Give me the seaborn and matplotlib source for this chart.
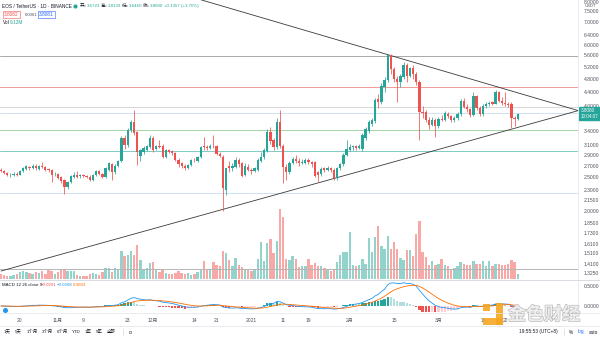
import numpy as np
import pandas as pd
import matplotlib
matplotlib.use("Agg")
import matplotlib.pyplot as plt
import matplotlib.patheffects as pe
from matplotlib.patches import Rectangle
from matplotlib.ticker import NullLocator
import seaborn as sns

# ---------------- data (EOS/USDT daily, 2020-10-14 .. 2021-03-26) ----------------
opens = [2.62, 2.60, 2.57, 2.53, 2.54, 2.56, 2.54, 2.60, 2.64, 2.68,
         2.66, 2.70, 2.64, 2.69, 2.67, 2.64, 2.62, 2.55, 2.55, 2.50,
         2.45, 2.35, 2.42, 2.50, 2.54, 2.52, 2.53, 2.52, 2.51, 2.46,
         2.53, 2.60, 2.55, 2.50, 2.63, 2.72, 2.58, 2.70, 2.79, 3.24,
         3.09, 3.42, 3.60, 3.37, 2.88, 2.95, 3.00, 3.05, 3.25, 3.02,
         3.07, 3.07, 2.86, 2.99, 2.97, 2.93, 2.80, 2.74, 2.70, 2.66,
         2.71, 2.79, 2.78, 2.86, 3.08, 3.05, 3.03, 3.08, 3.08, 2.92,
         2.86, 2.30, 2.70, 2.65, 2.68, 2.80, 2.74, 2.54, 2.68, 2.63,
         2.61, 2.62, 2.78, 2.85, 2.98, 3.38, 3.20, 3.05, 3.60, 3.07,
         2.68, 2.58, 2.75, 2.82, 2.78, 2.75, 2.75, 2.80, 2.77, 2.76,
         2.58, 2.55, 2.66, 2.62, 2.66, 2.63, 2.48, 2.66, 2.72, 2.90,
         3.00, 3.05, 3.07, 3.04, 3.02, 3.25, 3.40, 3.55, 3.62, 4.20,
         4.10, 4.55, 4.75, 5.60, 5.10, 4.80, 4.68, 4.86, 5.25, 4.90,
         5.15, 4.95, 4.70, 3.85, 3.84, 3.66, 3.53, 3.66, 3.50, 3.68,
         3.66, 3.80, 3.75, 3.64, 3.70, 3.80, 4.14, 3.98, 3.92, 3.78,
         4.27, 3.95, 3.80, 4.00, 4.05, 4.10, 4.07, 4.38, 4.15, 4.08,
         4.05, 4.07, 3.70, 3.67]
highs = [2.65, 2.63, 2.59, 2.57, 2.58, 2.58, 2.62, 2.67, 2.71, 2.70,
         2.72, 2.72, 2.71, 2.76, 2.69, 2.66, 2.64, 2.58, 2.57, 2.52,
         2.47, 2.44, 2.54, 2.58, 2.60, 2.55, 2.55, 2.54, 2.53, 2.56,
         2.63, 2.62, 2.57, 2.67, 2.76, 2.74, 2.72, 2.81, 3.28, 3.30,
         3.46, 3.66, 3.90, 3.40, 3.02, 3.08, 3.10, 3.30, 3.28, 3.10,
         3.20, 3.12, 3.01, 3.02, 2.99, 2.95, 2.83, 2.76, 2.72, 2.73,
         2.82, 2.83, 2.88, 3.08, 3.26, 3.09, 3.12, 3.30, 3.10, 2.95,
         2.90, 2.66, 2.78, 2.74, 2.86, 2.83, 2.76, 2.74, 2.72, 2.66,
         2.68, 2.84, 2.95, 3.04, 3.45, 3.48, 3.24, 3.70, 3.90, 3.12,
         2.72, 2.78, 2.86, 2.90, 2.84, 2.82, 2.84, 2.83, 2.79, 2.78,
         2.60, 2.67, 2.68, 2.70, 2.68, 2.65, 2.68, 2.75, 2.93, 3.20,
         3.12, 3.10, 3.10, 3.12, 3.34, 3.48, 3.65, 3.70, 4.22, 4.35,
         4.65, 4.85, 5.62, 5.65, 5.20, 4.90, 4.95, 5.35, 5.32, 5.20,
         5.25, 5.00, 4.75, 4.00, 3.90, 3.72, 3.72, 3.70, 3.72, 3.78,
         3.88, 3.86, 3.78, 3.75, 3.85, 4.20, 4.22, 4.05, 3.96, 4.40,
         4.32, 4.00, 4.05, 4.12, 4.15, 4.14, 4.45, 4.42, 4.25, 4.38,
         4.10, 4.12, 3.75, 3.82]
lows = [2.58, 2.55, 2.52, 2.51, 2.52, 2.52, 2.53, 2.58, 2.62, 2.63,
        2.64, 2.63, 2.62, 2.65, 2.61, 2.59, 2.42, 2.52, 2.47, 2.41,
        2.24, 2.31, 2.40, 2.48, 2.49, 2.49, 2.50, 2.48, 2.43, 2.44,
        2.52, 2.53, 2.48, 2.49, 2.61, 2.45, 2.56, 2.68, 2.77, 3.02,
        3.05, 3.38, 3.30, 2.71, 2.78, 2.92, 2.98, 3.03, 2.96, 2.99,
        3.03, 2.84, 2.84, 2.94, 2.90, 2.78, 2.68, 2.66, 2.63, 2.64,
        2.69, 2.76, 2.77, 2.84, 3.00, 2.99, 3.01, 3.04, 2.90, 2.85,
        2.00, 2.22, 2.58, 2.60, 2.66, 2.68, 2.50, 2.52, 2.60, 2.56,
        2.58, 2.60, 2.76, 2.82, 2.95, 3.12, 3.00, 3.02, 3.04, 2.41,
        2.45, 2.55, 2.72, 2.75, 2.70, 2.72, 2.72, 2.72, 2.68, 2.50,
        2.42, 2.52, 2.58, 2.60, 2.58, 2.46, 2.46, 2.63, 2.70, 2.88,
        2.97, 3.00, 3.00, 3.01, 2.98, 3.20, 3.36, 3.50, 3.58, 3.95,
        4.05, 4.40, 4.70, 4.95, 4.70, 4.10, 4.55, 4.80, 4.70, 4.85,
        4.80, 4.60, 3.20, 3.70, 3.60, 3.45, 3.50, 3.26, 3.46, 3.62,
        3.63, 3.70, 3.60, 3.60, 3.66, 3.76, 3.94, 3.85, 3.72, 3.74,
        3.90, 3.74, 3.76, 3.95, 4.00, 4.02, 4.05, 4.10, 4.02, 4.00,
        3.98, 3.46, 3.50, 3.64]
closes = [2.60, 2.57, 2.54, 2.54, 2.56, 2.54, 2.60, 2.65, 2.69, 2.66,
          2.70, 2.66, 2.69, 2.67, 2.63, 2.62, 2.54, 2.56, 2.49, 2.43,
          2.34, 2.42, 2.52, 2.54, 2.51, 2.53, 2.52, 2.50, 2.45, 2.54,
          2.61, 2.55, 2.50, 2.65, 2.74, 2.58, 2.70, 2.79, 3.24, 3.09,
          3.42, 3.60, 3.35, 2.95, 3.00, 3.04, 3.07, 3.25, 3.00, 3.07,
          3.06, 2.86, 2.99, 2.96, 2.93, 2.80, 2.72, 2.69, 2.66, 2.71,
          2.80, 2.78, 2.86, 3.06, 3.05, 3.03, 3.08, 3.07, 2.92, 2.88,
          2.33, 2.66, 2.65, 2.70, 2.80, 2.72, 2.52, 2.70, 2.62, 2.60,
          2.65, 2.80, 2.85, 3.00, 3.38, 3.18, 3.06, 3.60, 3.07, 2.68,
          2.58, 2.75, 2.82, 2.78, 2.74, 2.76, 2.80, 2.76, 2.72, 2.52,
          2.53, 2.64, 2.62, 2.66, 2.62, 2.48, 2.66, 2.72, 2.90, 3.02,
          3.05, 3.07, 3.04, 3.08, 3.31, 3.44, 3.60, 3.65, 4.17, 4.10,
          4.58, 4.75, 5.60, 5.10, 4.80, 4.68, 4.88, 5.25, 4.90, 5.15,
          4.95, 4.70, 3.85, 3.82, 3.65, 3.53, 3.66, 3.50, 3.68, 3.66,
          3.83, 3.74, 3.64, 3.70, 3.80, 4.14, 3.98, 3.92, 3.78, 4.27,
          3.95, 3.80, 4.00, 4.05, 4.08, 4.07, 4.38, 4.15, 4.08, 4.05,
          4.04, 3.70, 3.67, 3.808]
volumes = [5, 4, 3, 3, 4, 5, 7, 8, 7, 6,
           5, 7, 6, 8, 5, 9, 8, 5, 7, 9,
           9, 8, 8, 8, 4, 3, 3, 3, 5, 6,
           5, 4, 7, 11, 11, 7, 11, 10, 28, 23,
           24, 28, 24, 34, 19, 10, 11, 16, 17, 9,
           7, 10, 6, 5, 5, 6, 8, 6, 5, 6,
           4, 5, 7, 10, 18, 9, 10, 17, 14, 13,
           28, 26, 19, 13, 21, 14, 12, 10, 9, 8,
           10, 20, 37, 18, 36, 40, 26, 38, 70, 62,
           20, 19, 23, 20, 12, 13, 13, 20, 14, 16,
           13, 13, 11, 9, 8, 9, 17, 24, 27, 27,
           47, 14, 13, 14, 20, 15, 41, 27, 42, 53,
           33, 30, 43, 30, 37, 30, 21, 19, 29, 29,
           23, 45, 58, 27, 22, 14, 18, 14, 15, 20,
           14, 13, 9, 11, 13, 17, 15, 14, 14, 18,
           15, 15, 18, 13, 18, 13, 15, 15, 14, 14,
           15, 19, 17, 5]

level_prices = [5.58, 4.54, 3.97, 3.83, 3.41, 2.97, 2.25, 1.36]
upper_trend_days = [63.1, 182.3]
upper_trend_prices = [8.09, 3.88]
lower_trend_days = [0.0, 182.3]
lower_trend_prices = [1.343, 3.89]

price_ticks = [8.0, 7.5, 7.0, 6.4, 6.0, 5.6, 5.2, 4.8, 4.4, 4.0, 3.4, 3.1, 2.9,
               2.7, 2.5, 2.3, 2.15, 2.0, 1.85, 1.73, 1.61, 1.51, 1.41, 1.325]
macd_ticks = [0.5, 0.0]
date_tick_days = [6, 18, 26, 40, 48, 61, 68, 79, 89, 97, 110, 124, 138, 152, 159]
date_tick_labels = ["20", "11月", "9", "23", "12月", "14", "21", "2021", "11", "19",
                    "2月", "15", "3月", "15", "22"]
ohlc_labels = ["开=", "高=", "低=", "收="]
ohlc_values = ["3.6723", "3.8139", "3.6460", "3.8080"]
range_buttons = ["1天", "5天", "1个月", "3个月", "6个月", "YTD", "1年", "5年", "全部"]

# ---------------- styling ----------------
sns.set_theme(style="white")
plt.rcParams['font.family'] = ['Liberation Sans', 'Noto Sans CJK SC', 'DejaVu Sans']

UP = '#26a69a'
DN = '#ef5350'
UP_VOL = '#92d3cc'
DN_VOL = '#f7a9a7'
TXT = '#50535e'
level_colors = ['#a9a9a9', '#ef9a9a', '#d6d6d6', '#cfe3f5', '#a5d6a7', '#80cbc4', '#cfe3f5', '#b5b5b5']

W, H = 600, 338
fig = plt.figure(figsize=(6, 3.38), dpi=100)
fig.patch.set_facecolor('white')

def rect(x0, y0, x1, y1):
    return [x0 / W, 1 - y1 / H, (x1 - x0) / W, (y1 - y0) / H]

main_rect = rect(0, 0, 578, 279)
ax_vol = fig.add_axes(main_rect)
ax = fig.add_axes(main_rect)
ax_macd = fig.add_axes(rect(0, 280, 578, 312))

n = len(closes)
days = np.arange(n)
o = np.array(opens); c = np.array(closes); hi = np.array(highs); lo = np.array(lows)
up = c >= o
XL = (-0.3, 182.0)

# volume
df_vol = pd.DataFrame({'day': days, 'vol': volumes, 'up': up})
ax_vol.bar(df_vol['day'], df_vol['vol'], width=0.75,
           color=np.where(df_vol['up'], UP_VOL, DN_VOL), linewidth=0)
ax_vol.set_xlim(*XL)
ax_vol.set_ylim(0, 279)
ax_vol.axis('off')

# price pane
ax.set_facecolor('none')
ax.set_yscale('log')
ax.set_xlim(*XL)
ax.set_ylim(1.274, 8.08)
for p, col in zip(level_prices, level_colors):
    ax.axhline(p, color=col, lw=0.7, zorder=1)
ax.plot(upper_trend_days, upper_trend_prices, color='#3a3a3a', lw=0.6, zorder=2)
ax.plot(lower_trend_days, lower_trend_prices, color='#3a3a3a', lw=0.6, zorder=2)
cols = np.where(up, UP, DN)
ax.vlines(days, lo, hi, colors=cols, lw=0.55, zorder=3)
body_lo = np.minimum(o, c)
body_h = np.maximum(np.abs(c - o), body_lo * 0.004)
ax.bar(days, body_h, bottom=body_lo, width=0.72, color=cols, linewidth=0, zorder=4)

ax.yaxis.tick_right()
ax.yaxis.set_minor_locator(NullLocator())
ax.set_yticks(price_ticks)
ax.set_yticklabels([f"{t:.4f}" for t in price_ticks])
ax.tick_params(axis='y', length=0, pad=4, labelsize=3.6, labelcolor=TXT)
ax.set_xticks([])
for s in ax.spines.values():
    s.set_visible(False)

# last price box
tr = ax.get_yaxis_transform()
ax.text(1.004, closes[-1], f"{closes[-1]:.4f}\n10:04:07", transform=tr, ha='left', va='center',
        fontsize=3.3, color='white', linespacing=1.1, zorder=10,
        bbox=dict(boxstyle='square,pad=0.35', facecolor=UP, edgecolor=UP), clip_on=False)

# MACD pane
cs = pd.Series(closes)
ema12 = cs.ewm(span=12, adjust=False).mean()
ema26 = cs.ewm(span=26, adjust=False).mean()
macd = ema12 - ema26
signal = macd.ewm(span=9, adjust=False).mean()
hist = macd - signal
prev = hist.shift(1).fillna(0)
hcol = np.where(hist >= 0, np.where(hist > prev, '#26a69a', '#b2dfdb'),
                np.where(hist > prev, '#ffcdd2', '#ef5350'))
ax_macd.bar(days, hist, width=0.72, color=hcol, linewidth=0)
macd_df = pd.DataFrame({'day': days, 'macd': macd, 'signal': signal})
sns.lineplot(data=macd_df, x='day', y='macd', ax=ax_macd, color='#2196f3', lw=0.6)
sns.lineplot(data=macd_df, x='day', y='signal', ax=ax_macd, color='#ff6d00', lw=0.6)
ax_macd.set_xlim(*XL)
ax_macd.set_ylim(-0.15, 0.65)
ax_macd.set_xlabel(''); ax_macd.set_ylabel('')
ax_macd.yaxis.tick_right()
ax_macd.set_yticks(macd_ticks)
ax_macd.set_yticklabels([f"{t:.4f}" for t in macd_ticks])
ax_macd.set_xticks(date_tick_days)
ax_macd.set_xticklabels(date_tick_labels)
ax_macd.tick_params(axis='y', length=0, pad=4, labelsize=3.6, labelcolor=TXT)
ax_macd.tick_params(axis='x', length=0, pad=4.5, labelsize=3.6, labelcolor=TXT)
for s in ax_macd.spines.values():
    s.set_visible(False)
ax_macd.set_facecolor('none')

# separators
fig.add_artist(plt.Line2D([0, 1], [1 - 279.5 / H] * 2, color='#d1d4dc', lw=0.6))
fig.add_artist(plt.Line2D([0, 1], [1 - 312.5 / H] * 2, color='#e0e3eb', lw=0.5))
fig.add_artist(plt.Line2D([0, 1], [1 - 326 / H] * 2, color='#e0e3eb', lw=0.5))
fig.add_artist(plt.Line2D([578 / W] * 2, [1 - 312.5 / H, 1], color='#e0e3eb', lw=0.5))

def ftext(x, y, s, **kw):
    kw.setdefault('fontsize', 3.4)
    kw.setdefault('color', '#131722')
    kw.setdefault('va', 'center')
    return fig.text(x / W, 1 - y / H, s, **kw)

# header
ftext(2, 6, "EOS / TetherUS · 1D · BINANCE", ha='left')
fig.add_artist(plt.Line2D([75 / W], [1 - 6 / H], marker='o', ms=2.0, color=UP, lw=0))
hx = 80
for lab, val in zip(ohlc_labels, ohlc_values):
    ftext(hx, 6, lab, ha='left', fontsize=3.2)
    ftext(hx + 7, 6, val, ha='left', color=UP, fontsize=3.2)
    hx += 21
ftext(hx, 6, "+0.1357 (+3.70%)", ha='left', color=UP, fontsize=3.2)
ftext(4, 14.5, "3.8082", ha='left', color=DN,
      bbox=dict(boxstyle='square,pad=0.3', facecolor='white', edgecolor=DN, lw=0.4))
ftext(25, 14.5, "0.0001", ha='left', color=TXT, fontsize=3.1)
ftext(39, 14.5, "3.8081", ha='left', color='#2962ff',
      bbox=dict(boxstyle='square,pad=0.3', facecolor='white', edgecolor='#2962ff', lw=0.4))
ftext(3, 23, "Vol", ha='left')
ftext(10, 23, "9.12M", ha='left', color=UP)
ftext(590, 6.2, "USDT", ha='center', color=TXT, fontsize=3.0)

# MACD header
ftext(2, 284.5, "MACD 12 26 close 9", ha='left', fontsize=3.2)
ftext(41, 284.5, "\u22120.0291", ha='left', fontsize=3.2, color=DN)
ftext(57, 284.5, "\u22120.0208", ha='left', fontsize=3.2, color='#2196f3')
ftext(73, 284.5, "0.0083", ha='left', fontsize=3.2, color='#ff6d00')

# TradingView logo mark
fig.add_artist(plt.Line2D([5 / W], [1 - 309.5 / H], marker='o', ms=2.6, color='#2196f3', lw=0))

# bottom toolbar
for x, s in zip([7, 18, 32, 47, 62, 76, 88, 99, 111], range_buttons):
    ftext(x, 332, s, ha='center', fontsize=3.2)
fig.add_artist(plt.Line2D([123 / W] * 2, [1 - 329 / H, 1 - 335 / H], color='#d1d4dc', lw=0.5))
fig.add_artist(plt.Line2D([130 / W], [1 - 332 / H], marker='s', ms=2.0, mfc='none', mec=TXT, mew=0.4, lw=0))
ftext(538, 332, "19:55:53 (UTC+8)", ha='center', fontsize=3.4)
fig.add_artist(plt.Line2D([564 / W] * 2, [1 - 329 / H, 1 - 335 / H], color='#d1d4dc', lw=0.5))
ftext(571, 332, "%", ha='center', fontsize=3.4)
ftext(581, 332, "log", ha='center', fontsize=3.4, color='#2962ff')
ftext(593, 332, "auto", ha='center', fontsize=3.4)

# watermark
for (x0, y0, x1, y1) in [(483, 304, 490, 311), (496, 303, 503, 325), (483, 318, 503, 325)]:
    fig.add_artist(Rectangle((x0 / W, 1 - y1 / H), (x1 - x0) / W, (y1 - y0) / H,
                             transform=fig.transFigure, facecolor='#f5a623', edgecolor='none', alpha=0.9))
ftext(544, 315, "金色财经", ha='center', fontsize=13, color='#eeeeee', weight='bold',
      path_effects=[pe.withStroke(linewidth=0.9, foreground='#b8b8b8')])

fig.savefig('out.png', dpi=100, facecolor='white')
